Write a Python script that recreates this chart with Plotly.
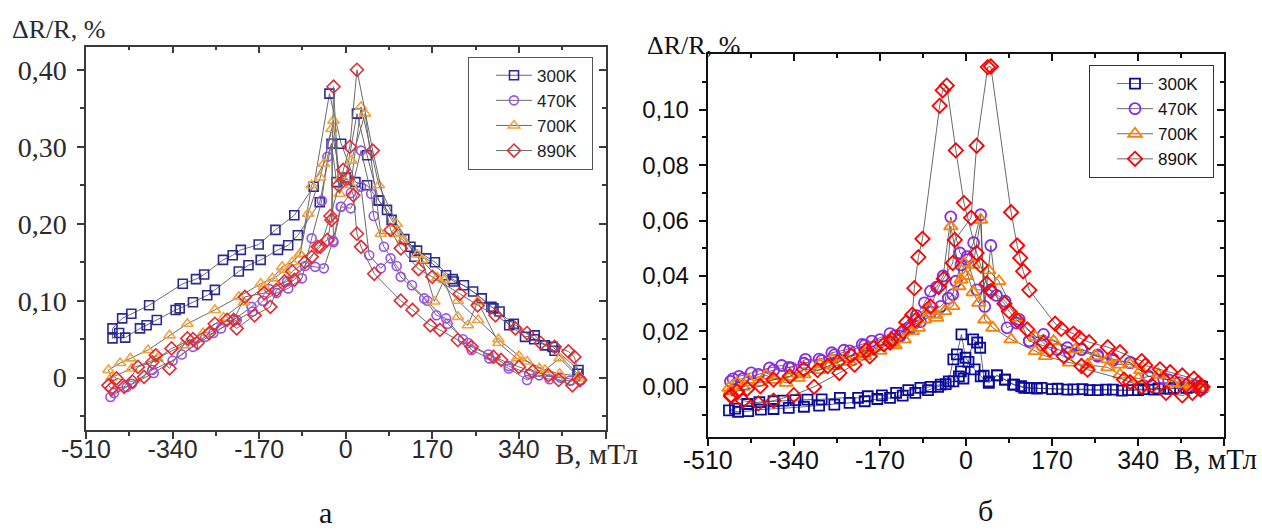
import plotly.graph_objects as go

# ---------------- Panel а (left) ----------------
A300_dn_x = [457, 406, 391, 371, 352, 321, 302, 286, 267, 232, 212, 197, 158, 135, 127, 81, 65, 42, 19, -9, -32, -63, -101, -138, -171, -206, -222, -241, -278, -294, -320, -386, -421, -439, -458]
A300_dn_y = [0.010, 0.040, 0.042, 0.055, 0.053, 0.068, 0.086, 0.092, 0.103, 0.120, 0.125, 0.133, 0.155, 0.157, 0.170, 0.218, 0.230, 0.250, 0.254, 0.304, 0.369, 0.248, 0.211, 0.192, 0.173, 0.166, 0.159, 0.153, 0.134, 0.128, 0.122, 0.094, 0.083, 0.077, 0.064]
A300_up_x = [-458, -445, -433, -404, -391, -371, -334, -326, -300, -272, -257, -210, -191, -167, -133, -113, -94, -51, -28, -18, 0, 22, 42, 65, 90, 115, 140, 175, 210, 250, 290, 330, 370, 410, 455]
A300_up_y = [0.051, 0.058, 0.052, 0.064, 0.068, 0.075, 0.088, 0.090, 0.098, 0.107, 0.114, 0.138, 0.146, 0.153, 0.166, 0.172, 0.185, 0.228, 0.304, 0.254, 0.260, 0.343, 0.289, 0.230, 0.205, 0.180, 0.165, 0.150, 0.128, 0.112, 0.090, 0.070, 0.050, 0.035, 0.005]

A470_dn_x = [460, 422, 380, 356, 320, 282, 247, 230, 197, 178, 154, 108, 88, 69, 46, 30, 10, -9, -24, -28, -36, -47, -67, -86, -113, -136, -163, -183, -214, -245, -276, -322, -377, -430, -462]
A470_dn_y = [-0.003, 0.000, 0.003, -0.003, 0.012, 0.025, 0.036, 0.050, 0.077, 0.081, 0.103, 0.131, 0.155, 0.142, 0.159, 0.248, 0.220, 0.222, 0.176, 0.304, 0.287, 0.230, 0.181, 0.129, 0.116, 0.110, 0.100, 0.086, 0.075, 0.064, 0.053, 0.030, 0.006, -0.012, -0.025]
A470_up_x = [-455, -420, -380, -340, -300, -260, -220, -185, -150, -115, -80, -60, -43, -25, -10, 10, 30, 50, 55, 75, 100, 130, 160, 200, 240, 280, 320, 360, 400, 440, 462]
A470_up_y = [-0.020, -0.008, 0.010, 0.022, 0.040, 0.058, 0.075, 0.092, 0.115, 0.125, 0.145, 0.144, 0.142, 0.178, 0.222, 0.240, 0.295, 0.239, 0.210, 0.170, 0.145, 0.120, 0.100, 0.070, 0.045, 0.030, 0.015, 0.005, -0.002, -0.004, -0.003]

A700_dn_x = [460, 420, 391, 356, 336, 300, 259, 240, 220, 193, 174, 150, 112, 96, 69, 38, 11, -12, -24, -43, -67, -90, -105, -125, -144, -167, -210, -257, -311, -346, -388, -423, -443, -466]
A700_dn_y = [-0.001, 0.025, 0.010, 0.021, 0.025, 0.045, 0.099, 0.068, 0.079, 0.127, 0.099, 0.153, 0.179, 0.187, 0.187, 0.343, 0.282, 0.239, 0.334, 0.278, 0.250, 0.161, 0.150, 0.144, 0.129, 0.122, 0.105, 0.088, 0.070, 0.055, 0.036, 0.025, 0.019, 0.010]
A700_up_x = [-460, -420, -370, -320, -280, -240, -200, -160, -120, -90, -74, -50, -28, -10, 10, 30, 65, 100, 140, 180, 220, 260, 300, 340, 380, 420, 458]
A700_up_y = [0.000, 0.012, 0.025, 0.042, 0.058, 0.078, 0.098, 0.118, 0.140, 0.160, 0.213, 0.260, 0.323, 0.260, 0.250, 0.352, 0.250, 0.200, 0.160, 0.130, 0.100, 0.075, 0.050, 0.028, 0.012, 0.005, 0.002]

A890_dn_x = [460, 445, 418, 398, 367, 340, 305, 290, 247, 220, 185, 166, 131, 108, 56, 30, 22, 15, 3, -14, -24, -28, -36, -55, -67, -101, -136, -148, -179, -214, -233, -268, -291, -311, -346, -373, -396, -419, -450, -466]
A890_dn_y = [-0.003, -0.010, -0.003, 0.003, 0.008, 0.014, 0.023, 0.027, 0.040, 0.049, 0.062, 0.068, 0.088, 0.100, 0.135, 0.170, 0.187, 0.237, 0.259, 0.250, 0.378, 0.205, 0.179, 0.170, 0.157, 0.127, 0.114, 0.092, 0.081, 0.064, 0.075, 0.058, 0.045, 0.051, 0.012, 0.029, 0.001, -0.005, -0.001, -0.010]
A890_up_x = [-460, -435, -408, -380, -342, -300, -257, -220, -198, -160, -120, -105, -80, -50, -30, -5, 8, 22, 53, 88, 108, 143, 170, 224, 259, 294, 333, 356, 383, 410, 437, 449, 460]
A890_up_y = [-0.014, -0.012, 0.014, 0.020, 0.038, 0.050, 0.070, 0.075, 0.105, 0.110, 0.125, 0.138, 0.150, 0.170, 0.210, 0.270, 0.300, 0.400, 0.295, 0.192, 0.168, 0.141, 0.131, 0.109, 0.094, 0.081, 0.064, 0.058, 0.045, 0.040, 0.034, 0.027, -0.003]

# ---------------- Panel б (right) ----------------
B300_dn_x = [463, 435, 403, 372, 340, 308, 276, 244, 212, 181, 149, 125, 109, 93, 77, 61, 45, 29, 17, -1, -9, -18, -25, -34, -50, -70, -90, -114, -138, -166, -194, -213, -249, -285, -313, -337, -361, -380, -408, -432, -456]
B300_dn_y = [0.0002, -0.0004, -0.0007, -0.0010, -0.0012, -0.0014, -0.0010, -0.0012, -0.0009, -0.0007, -0.0004, -0.0004, 0.0002, 0.0008, 0.0026, 0.0041, 0.0014, 0.0038, 0.0063, 0.0105, 0.0189, 0.0117, 0.0099, 0.0020, 0.0008, 0.0000, -0.0004, -0.0012, -0.0022, -0.0031, -0.0034, -0.0040, -0.0040, -0.0045, -0.0046, -0.0048, -0.0050, -0.0052, -0.0055, -0.0062, -0.0079]
B300_up_x = [-468, -450, -430, -405, -380, -350, -320, -290, -260, -230, -200, -175, -150, -125, -100, -75, -55, -40, -25, -14, -10, -5, 5, 14, 22, 28, 35, 45, 61, 77, 95, 115, 140, 170, 200, 230, 260, 290, 320, 350, 380, 410, 440, 466]
B300_up_y = [-0.0085, -0.0090, -0.0088, -0.0082, -0.0080, -0.0076, -0.0072, -0.0068, -0.0064, -0.0058, -0.0052, -0.0044, -0.0040, -0.0032, -0.0022, -0.0012, 0.0000, 0.0010, 0.0020, 0.0038, 0.0056, 0.0030, 0.0090, 0.0171, 0.0160, 0.0141, 0.0040, 0.0020, 0.0041, 0.0026, 0.0008, -0.0004, -0.0006, -0.0008, -0.0010, -0.0008, -0.0012, -0.0010, -0.0012, -0.0008, -0.0006, -0.0004, -0.0002, 0.0000]

B470_dn_x = [462, 430, 400, 360, 324, 290, 260, 228, 200, 153, 125, 105, 77, 49, 21, 2, -12, -30, -45, -58, -70, -82, -98, -114, -130, -150, -186, -205, -241, -265, -285, -317, -345, -364, -388, -424, -448, -460]
B470_dn_y = [-0.0010, 0.0010, 0.0025, 0.0038, 0.0087, 0.0095, 0.0115, 0.0135, 0.0141, 0.0189, 0.0165, 0.0243, 0.0309, 0.0350, 0.0350, 0.0459, 0.0483, 0.0613, 0.0400, 0.0360, 0.0345, 0.0303, 0.0257, 0.0213, 0.0183, 0.0192, 0.0165, 0.0153, 0.0132, 0.0123, 0.0095, 0.0099, 0.0068, 0.0077, 0.0068, 0.0050, 0.0038, 0.0029]
B470_up_x = [-465, -440, -410, -380, -350, -320, -290, -260, -230, -200, -170, -140, -110, -90, -70, -50, -35, -26, -20, -10, 2, 15, 29, 37, 49, 60, 81, 100, 125, 150, 180, 204, 228, 260, 290, 324, 360, 390, 420, 450, 465]
B470_up_y = [0.0020, 0.0030, 0.0045, 0.0060, 0.0070, 0.0085, 0.0100, 0.0115, 0.0130, 0.0150, 0.0170, 0.0185, 0.0210, 0.0235, 0.0270, 0.0290, 0.0320, 0.0333, 0.0381, 0.0440, 0.0470, 0.0520, 0.0621, 0.0290, 0.0510, 0.0330, 0.0213, 0.0230, 0.0165, 0.0150, 0.0135, 0.0123, 0.0135, 0.0110, 0.0100, 0.0087, 0.0038, 0.0030, 0.0015, 0.0005, -0.0010]

B700_dn_x = [451, 427, 407, 380, 345, 324, 300, 280, 256, 216, 173, 137, 101, 65, 45, 25, 14, -4, -10, -30, -42, -58, -74, -94, -122, -146, -202, -237, -265, -289, -331, -355, -395, -430, -452, -468]
B700_dn_y = [0.0002, 0.0010, 0.0014, 0.0044, 0.0060, 0.0081, 0.0080, 0.0099, 0.0111, 0.0135, 0.0165, 0.0180, 0.0249, 0.0381, 0.0420, 0.0303, 0.0341, 0.0447, 0.0387, 0.0579, 0.0273, 0.0249, 0.0279, 0.0213, 0.0171, 0.0159, 0.0123, 0.0105, 0.0099, 0.0081, 0.0032, 0.0014, 0.0041, 0.0025, 0.0014, -0.0004]
B700_up_x = [-465, -440, -410, -380, -350, -320, -290, -260, -230, -200, -170, -140, -106, -82, -60, -26, -14, 0, 14, 29, 37, 53, 89, 137, 157, 204, 240, 280, 304, 340, 380, 407, 440, 466]
B700_up_y = [-0.0015, 0.0000, 0.0015, 0.0025, 0.0035, 0.0045, 0.0060, 0.0075, 0.0090, 0.0110, 0.0130, 0.0150, 0.0201, 0.0243, 0.0260, 0.0291, 0.0363, 0.0400, 0.0440, 0.0603, 0.0243, 0.0213, 0.0171, 0.0129, 0.0111, 0.0087, 0.0080, 0.0070, 0.0044, 0.0030, 0.0044, 0.0014, 0.0005, -0.0005]

B890_dn_x = [463, 447, 427, 395, 367, 347, 324, 312, 240, 228, 193, 165, 153, 121, 101, 85, 76, 49, 41, 29, 21, -4, -20, -38, -46, -52, -86, -94, -102, -106, -118, -147, -162, -182, -197, -227, -253, -273, -293, -320, -348, -380, -406, -432, -452, -464]
B890_dn_y = [-0.0010, -0.0022, -0.0031, -0.0022, 0.0005, 0.0000, 0.0017, 0.0026, 0.0062, 0.0075, 0.0110, 0.0135, 0.0159, 0.0207, 0.0240, 0.0273, 0.0300, 0.0345, 0.0373, 0.0438, 0.0483, 0.0663, 0.0853, 0.1087, 0.1070, 0.1014, 0.0534, 0.0468, 0.0356, 0.0260, 0.0233, 0.0171, 0.0153, 0.0141, 0.0132, 0.0113, 0.0089, 0.0075, 0.0060, 0.0063, 0.0038, 0.0026, 0.0002, -0.0007, -0.0016, -0.0034]
B890_up_x = [-464, -440, -410, -380, -340, -300, -250, -220, -190, -150, -125, -100, -70, -54, -44, -26, -22, 10, 21, 43, 49, 89, 101, 107, 113, 125, 176, 188, 212, 224, 243, 280, 304, 347, 354, 383, 403, 427, 450, 459, 467]
B890_up_y = [-0.0030, -0.0050, -0.0060, -0.0050, -0.0030, 0.0000, 0.0050, 0.0080, 0.0110, 0.0160, 0.0200, 0.0240, 0.0290, 0.0360, 0.0390, 0.0447, 0.0530, 0.0610, 0.0870, 0.1154, 0.1156, 0.0630, 0.0510, 0.0465, 0.0417, 0.0349, 0.0228, 0.0209, 0.0192, 0.0177, 0.0161, 0.0143, 0.0125, 0.0093, 0.0077, 0.0063, 0.0053, 0.0041, 0.0029, 0.0014, 0.0000]

series_names = ["300K", "470K", "700K", "890K"]
symbols = ["square-open", "circle-open", "triangle-up-open", "diamond-open"]
colors_a = ["#2a2a92", "#9a4ee6", "#f3a23a", "#e42a32"]
colors_b = ["#0a0aa0", "#8a2be2", "#ff8000", "#ff0000"]
sizes_a = [9, 9, 10, 10]
sizes_b = [10, 11, 12, 11]

panel_a = [(A300_dn_x, A300_dn_y, A300_up_x, A300_up_y),
           (A470_dn_x, A470_dn_y, A470_up_x, A470_up_y),
           (A700_dn_x, A700_dn_y, A700_up_x, A700_up_y),
           (A890_dn_x, A890_dn_y, A890_up_x, A890_up_y)]
panel_b = [(B300_dn_x, B300_dn_y, B300_up_x, B300_up_y),
           (B470_dn_x, B470_dn_y, B470_up_x, B470_up_y),
           (B700_dn_x, B700_dn_y, B700_up_x, B700_up_y),
           (B890_dn_x, B890_dn_y, B890_up_x, B890_up_y)]

PAD = "\u00a0\u00a0"  # invisible padding to widen legend boxes like the original

fig = go.Figure()

for i, (dx, dy, ux, uy) in enumerate(panel_a):
    fig.add_trace(go.Scatter(
        x=dx + ux, y=dy + uy, mode="lines+markers", name=series_names[i] + PAD,
        xaxis="x", yaxis="y", legend="legend",
        line=dict(color="#6a6a6a", width=1),
        marker=dict(symbol=symbols[i], size=sizes_a[i], color=colors_a[i],
                    line=dict(width=1.6, color=colors_a[i])),
    ))

for i, (dx, dy, ux, uy) in enumerate(panel_b):
    fig.add_trace(go.Scatter(
        x=dx + ux, y=dy + uy, mode="lines+markers", name=series_names[i] + PAD,
        xaxis="x2", yaxis="y2", legend="legend2",
        line=dict(color="#444444", width=0.8),
        marker=dict(symbol=symbols[i], size=sizes_b[i], color=colors_b[i],
                    line=dict(width=1.8, color=colors_b[i])),
    ))

# dummy traces to activate mirror axes
for xa, ya in [("x3", "y"), ("x", "y3"), ("x4", "y2"), ("x2", "y4")]:
    fig.add_trace(go.Scatter(x=[None], y=[None], xaxis=xa, yaxis=ya,
                             showlegend=False, hoverinfo="skip"))

W, H = 1262, 531
ax_dom = [86 / W, 605.5 / W]
ay_dom = [1 - 430 / H, 1 - 46.7 / H]
bx_dom = [707.7 / W, 1224.3 / W]
by_dom = [1 - 436.7 / H, 1 - 54.3 / H]

x_major = [-510, -340, -170, 0, 170, 340, 510]
x_text = ["-510", "-340", "-170", "0", "170", "340", ""]
x_minor = [-425, -255, -85, 85, 255, 425]

ya_major = [0, 0.1, 0.2, 0.3, 0.4]
ya_text = ["0", "0,10", "0,20", "0,30", "0,40"]
ya_minor = [-0.05, 0.05, 0.15, 0.25, 0.35]

yb_major = [0, 0.02, 0.04, 0.06, 0.08, 0.10]
yb_text = ["0,00", "0,02", "0,04", "0,06", "0,08", "0,10"]
yb_minor = [-0.01, 0.01, 0.03, 0.05, 0.07, 0.09, 0.11]

sans = "Liberation Sans, Arial, sans-serif"
serif = "Liberation Serif, Times New Roman, serif"

xr = [-510, 510]
ya_rng = [-0.068, 0.43]
yb_rng = [-0.018, 0.12]

def xax(domain, anchor, lc, lw, font, side="bottom", inside=False, overlay=None, labels=True, standoff=0):
    d = dict(domain=domain, anchor=anchor, range=xr, tickmode="array", tickvals=x_major,
             ticktext=x_text, ticks="inside" if inside else "outside", ticklen=7, tickwidth=lw,
             tickcolor=lc, showline=True, linecolor=lc, linewidth=lw, showgrid=False,
             zeroline=False, showticklabels=labels, tickfont=font, side=side, automargin=False,
             minor=dict(tickmode="array", tickvals=x_minor, ticks="inside" if inside else "outside",
                        ticklen=4, tickwidth=lw, tickcolor=lc, showgrid=False),
             ticklabelstandoff=standoff)
    if overlay:
        d["overlaying"] = overlay
        d.pop("domain")
    return d

def yax(domain, anchor, rng, tv, tt, tm, lc, lw, font, side="left", inside=False, overlay=None, labels=True):
    d = dict(domain=domain, anchor=anchor, range=rng, tickmode="array", tickvals=tv,
             ticktext=tt, ticks="inside" if inside else "outside", ticklen=7, tickwidth=lw,
             tickcolor=lc, showline=True, linecolor=lc, linewidth=lw, showgrid=False,
             zeroline=False, showticklabels=labels, tickfont=font, side=side, automargin=False,
             minor=dict(tickmode="array", tickvals=tm, ticks="inside" if inside else "outside",
                        ticklen=4, tickwidth=lw, tickcolor=lc, showgrid=False),
             ticklabelstandoff=5)
    if overlay:
        d["overlaying"] = overlay
        d.pop("domain")
    return d

ca, wa = "#3a3a3a", 1.5
cb, wb = "#111111", 2

leg_common = dict(xanchor="left", yanchor="top", bgcolor="white", borderwidth=1,
                  indentation=22, itemwidth=36, tracegroupgap=0)

fig.update_layout(
    width=W, height=H, margin=dict(l=0, r=0, t=0, b=0, autoexpand=False),
    paper_bgcolor="white", plot_bgcolor="white",
    xaxis=xax(ax_dom, "y", ca, wa, dict(family=sans, size=25, color="#2a2a2a"), standoff=-11),
    yaxis=yax(ay_dom, "x", ya_rng, ya_major, ya_text, ya_minor, ca, wa,
              dict(family=serif, size=28, color="#2a2a2a")),
    xaxis3=xax(ax_dom, "y", ca, wa, None, side="top", inside=True, overlay="x", labels=False),
    yaxis3=yax(ay_dom, "x", ya_rng, ya_major, ya_text, ya_minor, ca, wa, None,
               side="right", inside=True, overlay="y", labels=False),
    xaxis2=xax(bx_dom, "y2", cb, wb, dict(family=sans, size=25, color="#111"), standoff=-7),
    yaxis2=yax(by_dom, "x2", yb_rng, yb_major, yb_text, yb_minor, cb, wb,
               dict(family=sans, size=24, color="#111")),
    xaxis4=xax(bx_dom, "y2", cb, wb, None, side="top", inside=True, overlay="x2", labels=False),
    yaxis4=yax(by_dom, "x2", yb_rng, yb_major, yb_text, yb_minor, cb, wb, None,
               side="right", inside=True, overlay="y2", labels=False),
    legend=dict(x=468 / W, y=1 - 56.7 / H, bordercolor="#555",
                font=dict(family=sans, size=17, color="#222"), **leg_common),
    legend2=dict(x=1089 / W, y=1 - 65 / H, bordercolor="#333",
                 font=dict(family=sans, size=17, color="#111"), **leg_common),
    showlegend=True,
)

annos = [
    dict(text="ΔR/R, %", x=10 / W, y=1 - 29 / H, xanchor="left", yanchor="middle",
         font=dict(family=serif, size=26, color="#2a2a2a")),
    dict(text="ΔR/R, %", x=645 / W, y=1 - 45 / H, xanchor="left", yanchor="middle",
         font=dict(family=serif, size=26, color="#111")),
    dict(text="B, мТл", x=553 / W, y=1 - 454 / H, xanchor="left", yanchor="middle",
         font=dict(family=serif, size=29, color="#2a2a2a")),
    dict(text="B, мТл", x=1172 / W, y=1 - 459 / H, xanchor="left", yanchor="middle",
         font=dict(family=serif, size=29, color="#111")),
    dict(text="а", x=325 / W, y=1 - 512 / H, xanchor="center", yanchor="middle",
         font=dict(family=serif, size=30, color="#111")),
    dict(text="б", x=985 / W, y=1 - 510 / H, xanchor="center", yanchor="middle",
         font=dict(family=serif, size=30, color="#111")),
]
for a in annos:
    a.update(xref="paper", yref="paper", showarrow=False)
fig.update_layout(annotations=annos)

fig.write_html("out.html", config={"responsive": False, "displayModeBar": False},
               post_script="document.body.style.margin='0';document.body.style.overflow='hidden';")
